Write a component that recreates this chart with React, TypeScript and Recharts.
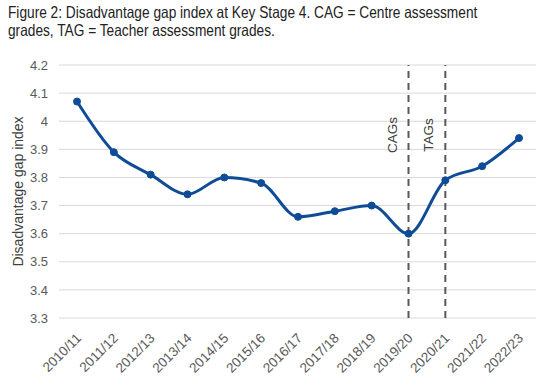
import React from "react";
import { LineChart, Line, XAxis, YAxis, CartesianGrid, ReferenceLine } from "recharts";

const categories = ["2010/11","2011/12","2012/13","2013/14","2014/15","2015/16","2016/17","2017/18","2018/19","2019/20","2020/21","2021/22","2022/23"];
const gapIndex = [4.07, 3.89, 3.81, 3.74, 3.80, 3.78, 3.66, 3.68, 3.70, 3.60, 3.79, 3.84, 3.94];
const yTicks = [3.3, 3.4, 3.5, 3.6, 3.7, 3.8, 3.9, 4.0, 4.1, 4.2];
const markers = [{ x: "2019/20", label: "CAGs" }, { x: "2020/21", label: "TAGs" }];
const titleLines = ["Figure 2: Disadvantage gap index at Key Stage 4. CAG = Centre assessment", "grades, TAG = Teacher assessment grades."];

const data = categories.map((c, i) => ({ year: c, value: gapIndex[i] }));

const BLUE = "#0f4c97";
const FONT = "'Liberation Sans', Arial, sans-serif";

const XTick = (props: any) => {
  const { x, y, payload } = props;
  const ax = x + 5;
  const ay = y + 13;
  return (
    <text x={ax} y={ay} transform={`rotate(-45 ${ax} ${ay})`} textAnchor="end" fontSize={13.5} fill="#595959" fontFamily={FONT}>
      {payload.value}
    </text>
  );
};

const makeLabel = (text: string) => (props: any) => {
  const vb = props.viewBox || {};
  const lx = vb.x - 12;
  const ly = vb.y + 70;
  return (
    <text x={lx} y={ly} transform={`rotate(-90 ${lx} ${ly})`} textAnchor="middle" fontSize={13.5} fill="#404040" fontFamily={FONT}>
      {text}
    </text>
  );
};

const YLabel = (props: any) => {
  const vb = props.viewBox || {};
  const lx = 23;
  const ly = vb.y + vb.height / 2;
  return (
    <text x={lx} y={ly} transform={`rotate(-90 ${lx} ${ly})`} textAnchor="middle" fontSize={14} fill="#404040" fontFamily={FONT}>
      Disadvantage gap index
    </text>
  );
};

export default function App() {
  return (
    <div style={{ position: "absolute", left: 0, top: 0, width: 556, height: 391, background: "#fff", fontFamily: FONT }}>
      <div style={{ position: "absolute", left: 8, top: 3, fontSize: 16.5, lineHeight: "18px", color: "#222", whiteSpace: "nowrap", transform: "scaleX(0.83)", transformOrigin: "0 0" }}>
        {titleLines.map((t) => (
          <div key={t}>{t}</div>
        ))}
      </div>
      <div style={{ position: "absolute", left: 0, top: 0 }}>
        <LineChart width={556} height={391} data={data} margin={{ top: 65, right: 20, bottom: 13, left: 19 }}>
          <CartesianGrid horizontal vertical={false} stroke="#d9d9d9" />
          <XAxis dataKey="year" axisLine={false} tickLine={false} height={60} interval={0} padding={{ left: 18, right: 17 }} tick={<XTick />} />
          <YAxis
            domain={[3.3, 4.2]}
            ticks={yTicks}
            width={40}
            axisLine={false}
            tickLine={false}
            tick={{ fontSize: 13, fill: "#595959", fontFamily: FONT, dx: -3 }}
            tickFormatter={(v: number) => String(Number(v.toFixed(1)))}
            label={<YLabel />}
          />
          {markers.map((m) => (
            <ReferenceLine key={m.x} x={m.x} stroke="#595959" strokeWidth={2} strokeDasharray="7 5" label={makeLabel(m.label)} />
          ))}
          <Line type="monotone" dataKey="value" stroke={BLUE} strokeWidth={3} dot={{ r: 3.5, fill: BLUE, stroke: BLUE, strokeWidth: 1 }} isAnimationActive={false} />
        </LineChart>
      </div>
    </div>
  );
}
